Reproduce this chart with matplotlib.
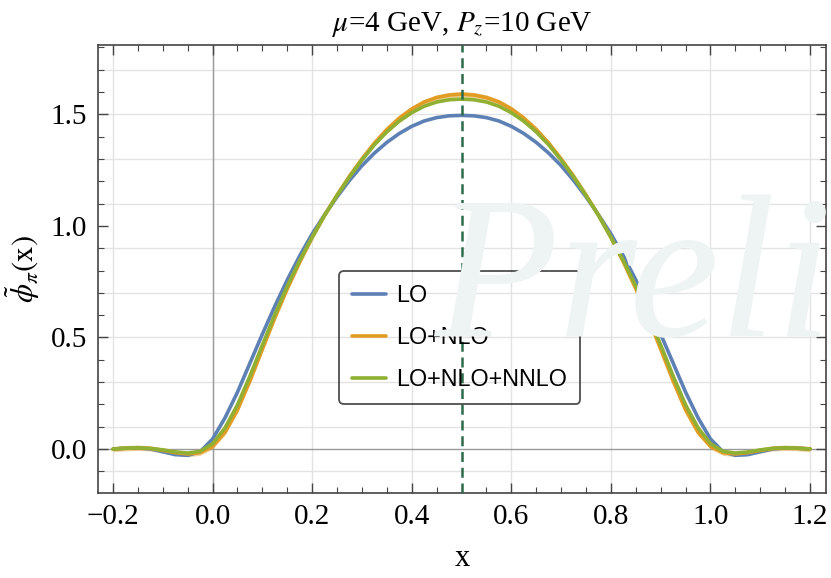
import matplotlib.pyplot as plt
import numpy as np
from matplotlib.ticker import MultipleLocator

# momentum fraction grid and the three perturbative orders
x = [-0.2, -0.175, -0.15, -0.125, -0.1, -0.075, -0.05, -0.025,
     0.0, 0.025, 0.05, 0.075, 0.1, 0.125, 0.15, 0.175,
     0.2, 0.225, 0.25, 0.275, 0.3, 0.325, 0.35, 0.375,
     0.4, 0.425, 0.45, 0.475, 0.5, 0.525, 0.55, 0.575,
     0.6, 0.625, 0.65, 0.675, 0.7, 0.725, 0.75, 0.775,
     0.8, 0.825, 0.85, 0.875, 0.9, 0.925, 0.95, 0.975,
     1.0, 1.025, 1.05, 1.075, 1.1, 1.125, 1.15, 1.175, 1.2]

lo = [0.0, 0.004, 0.005, 0.001, -0.012, -0.025, -0.028, -0.012,
      0.045, 0.14, 0.255, 0.385, 0.515, 0.64, 0.758, 0.866,
      0.964, 1.05, 1.13, 1.204, 1.27, 1.326, 1.374, 1.414,
      1.446, 1.47, 1.485, 1.493, 1.495, 1.493, 1.485, 1.47,
      1.446, 1.414, 1.374, 1.326, 1.27, 1.204, 1.13, 1.05,
      0.964, 0.866, 0.758, 0.64, 0.515, 0.385, 0.255, 0.14,
      0.045, -0.012, -0.028, -0.025, -0.012, 0.001, 0.005, 0.004, 0.0]

nlo = [0.0, 0.004, 0.006, 0.003, -0.006, -0.016, -0.022, -0.016,
       0.012, 0.075, 0.175, 0.305, 0.447, 0.588, 0.718, 0.838,
       0.948, 1.048, 1.138, 1.223, 1.30, 1.371, 1.432, 1.483,
       1.524, 1.555, 1.575, 1.586, 1.59, 1.586, 1.575, 1.555,
       1.524, 1.483, 1.432, 1.371, 1.30, 1.223, 1.138, 1.048,
       0.948, 0.838, 0.718, 0.588, 0.447, 0.305, 0.175, 0.075,
       0.012, -0.016, -0.022, -0.016, -0.006, 0.003, 0.006, 0.004, 0.0]

nnlo = [0.0, 0.004, 0.006, 0.003, -0.004, -0.013, -0.018, -0.010,
        0.024, 0.095, 0.198, 0.327, 0.466, 0.602, 0.73, 0.845,
        0.949, 1.047, 1.136, 1.219, 1.295, 1.363, 1.421, 1.469,
        1.507, 1.536, 1.555, 1.565, 1.568, 1.565, 1.555, 1.536,
        1.507, 1.469, 1.421, 1.363, 1.295, 1.219, 1.136, 1.047,
        0.949, 0.845, 0.73, 0.602, 0.466, 0.327, 0.198, 0.095,
        0.024, -0.010, -0.018, -0.013, -0.004, 0.003, 0.006, 0.004, 0.0]

nlo_err = 0.012
x_mid = 0.5

blue = '#5E81B5'
orange = '#E19C24'
green = '#8FB032'

plt.rcParams['mathtext.fontset'] = 'stix'
serif = 'Liberation Serif'

fig = plt.figure(figsize=(8.31, 5.78), dpi=100)
ax = fig.add_axes([0.118, 0.147, 0.876, 0.775])

# faint watermark behind everything
fig.text(0.522, 0.418, 'Preliminary', fontsize=146, family=serif, style='italic',
         color='#eef3f3', ha='left', va='baseline', zorder=0)
ax.set_facecolor('none')

for gx in np.arange(-0.2, 1.21, 0.2):
    ax.axvline(gx, color='#e3e3e3', lw=1, zorder=1)
for gy in np.arange(-0.1, 1.75, 0.2):
    ax.axhline(gy, color='#e3e3e3', lw=1, zorder=1)
ax.axvline(0, color='#9a9a9a', lw=1, zorder=1.5)
ax.axhline(0, color='#9a9a9a', lw=1, zorder=1.5)

xa = np.array(x)
na = np.array(nlo)
ax.fill_between(xa, na - nlo_err, na + nlo_err, color=orange, alpha=0.45, lw=0, zorder=2)
line_kw = dict(lw=2.6, solid_joinstyle='round', solid_capstyle='round', zorder=3)
ax.plot(x, lo, color=blue, label='LO', **line_kw)
ax.plot(x, nlo, color=orange, label='LO+NLO', **line_kw)
ax.plot(x, nnlo, color=green, label='LO+NLO+NNLO', **line_kw)
ax.axvline(x_mid, color='#2E6B4A', lw=1.8, ls=(0, (4, 2.3)), zorder=4)

ax.set_xlim(-0.23, 1.232)
ax.set_ylim(-0.197, 1.81)

ax.set_xticks(np.arange(-0.2, 1.21, 0.2))
ax.set_xticklabels(['\u22120.2', '0.0', '0.2', '0.4', '0.6', '0.8', '1.0', '1.2'],
                   family=serif)
ax.xaxis.set_minor_locator(MultipleLocator(0.05))
ax.yaxis.set_major_locator(MultipleLocator(0.5))
ax.yaxis.set_minor_locator(MultipleLocator(0.1))
ax.tick_params(which='both', direction='in', top=True, right=True, color='#444444')
ax.tick_params(which='major', length=7, width=1)
ax.tick_params(which='minor', length=4, width=0.8)
ax.tick_params(axis='both', labelsize=21, pad=8)
for lab in ax.get_xticklabels() + ax.get_yticklabels():
    lab.set_family(serif)
for sp in ax.spines.values():
    sp.set_color('#444444')
    sp.set_linewidth(1.2)

ax.set_title(r'$\mu$=4 GeV, $P_z$=10 GeV', fontsize=21, family=serif, pad=10)
ax.set_xlabel('x', fontsize=22, family=serif, labelpad=10)
ax.set_ylabel(r'$\tilde{\phi}_{\pi}(\mathrm{x})$', fontsize=22, labelpad=6)

leg = ax.legend(loc='center', bbox_to_anchor=(0.497, 0.347),
                prop={'family': 'Liberation Sans', 'size': 16.8},
                handlelength=1.45, handletextpad=0.45, labelspacing=0.82,
                borderpad=0.55, fancybox=True, facecolor='none', edgecolor='#222222')
leg.get_frame().set_linewidth(1.3)
leg.set_zorder(5)

fig.savefig('out.png', dpi=100, facecolor='white')
